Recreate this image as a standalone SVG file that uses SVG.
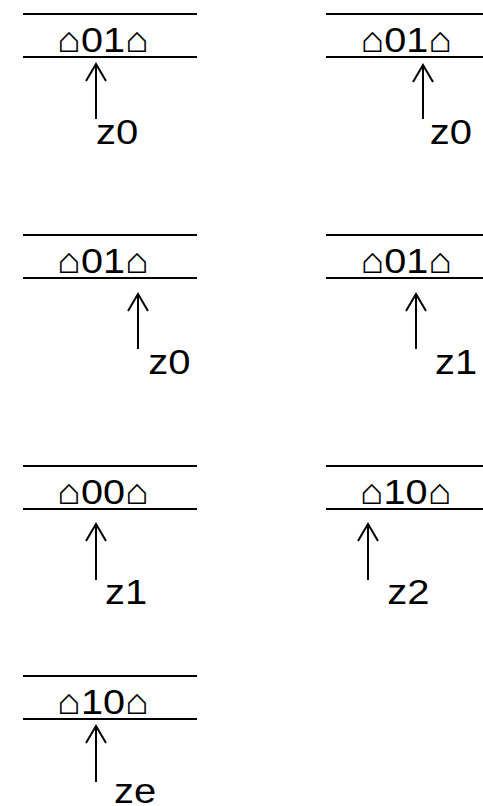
<svg xmlns="http://www.w3.org/2000/svg" width="483" height="806" viewBox="0 0 483 806">
<style>
.rule{stroke:#000;stroke-width:2;fill:none}
.tape{font-family:"Liberation Sans",Arial,sans-serif;font-size:36px;fill:#000}
.lbl{font-family:"Liberation Sans",Arial,sans-serif;font-size:36px;fill:#000}
.conn{stroke:#000;stroke-width:2;fill:none;marker-end:url(#ah)}
</style>
<defs>
<marker id="ah" markerUnits="userSpaceOnUse" markerWidth="40" markerHeight="40" viewBox="-20 -20 40 40" refX="0" refY="0" orient="auto" overflow="visible">
<path d="M-17,-10 L0,0 L-17,10" fill="none" stroke="#000" stroke-width="2"/>
</marker>
</defs>
<rect width="483" height="806" fill="#fff"/>
<g id="p1">
<line class="rule" x1="23" y1="14" x2="197" y2="14"/>
<line class="rule" x1="23" y1="57" x2="197" y2="57"/>
<text class="tape" transform="matrix(1.1 0 0 1 57 52)">⌂01⌂</text>
<text class="lbl" transform="matrix(1.11 0 0 1 96 144)">z0</text>
</g>
<g id="p2">
<line class="rule" x1="326" y1="14" x2="500" y2="14"/>
<line class="rule" x1="326" y1="57" x2="500" y2="57"/>
<text class="tape" transform="matrix(1.1 0 0 1 360.4 52)">⌂01⌂</text>
<text class="lbl" transform="matrix(1.11 0 0 1 429.7 144)">z0</text>
</g>
<g id="p3">
<line class="rule" x1="23" y1="235" x2="197" y2="235"/>
<line class="rule" x1="23" y1="278" x2="197" y2="278"/>
<text class="tape" transform="matrix(1.1 0 0 1 57 273)">⌂01⌂</text>
<text class="lbl" transform="matrix(1.11 0 0 1 148.3 374)">z0</text>
</g>
<g id="p4">
<line class="rule" x1="326" y1="235" x2="500" y2="235"/>
<line class="rule" x1="326" y1="278" x2="500" y2="278"/>
<text class="tape" transform="matrix(1.1 0 0 1 360.4 273)">⌂01⌂</text>
<text class="lbl" transform="matrix(1.11 0 0 1 435 374)">z1</text>
</g>
<g id="p5">
<line class="rule" x1="23" y1="466" x2="197" y2="466"/>
<line class="rule" x1="23" y1="509" x2="197" y2="509"/>
<text class="tape" transform="matrix(1.1 0 0 1 57 504)">⌂00⌂</text>
<text class="lbl" transform="matrix(1.11 0 0 1 105 604)">z1</text>
</g>
<g id="p6">
<line class="rule" x1="326" y1="466" x2="500" y2="466"/>
<line class="rule" x1="326" y1="509" x2="500" y2="509"/>
<text class="tape" transform="matrix(1.1 0 0 1 359.7 504)">⌂10⌂</text>
<text class="lbl" transform="matrix(1.11 0 0 1 387.3 604)">z2</text>
</g>
<g id="p7">
<line class="rule" x1="23" y1="676" x2="197" y2="676"/>
<line class="rule" x1="23" y1="719" x2="197" y2="719"/>
<text class="tape" transform="matrix(1.1 0 0 1 57 714)">⌂10⌂</text>
<text class="lbl" transform="matrix(1.11 0 0 1 114 803)">ze</text>
</g>
<g id="connectors">
<path class="conn" d="M96,119 V64"/>
<path class="conn" d="M423,119 V65"/>
<path class="conn" d="M138,349 V294"/>
<path class="conn" d="M416,349 V294"/>
<path class="conn" d="M96,580 V524"/>
<path class="conn" d="M368,580 V524"/>
<path class="conn" d="M96,782 V726"/>
</g>
</svg>
